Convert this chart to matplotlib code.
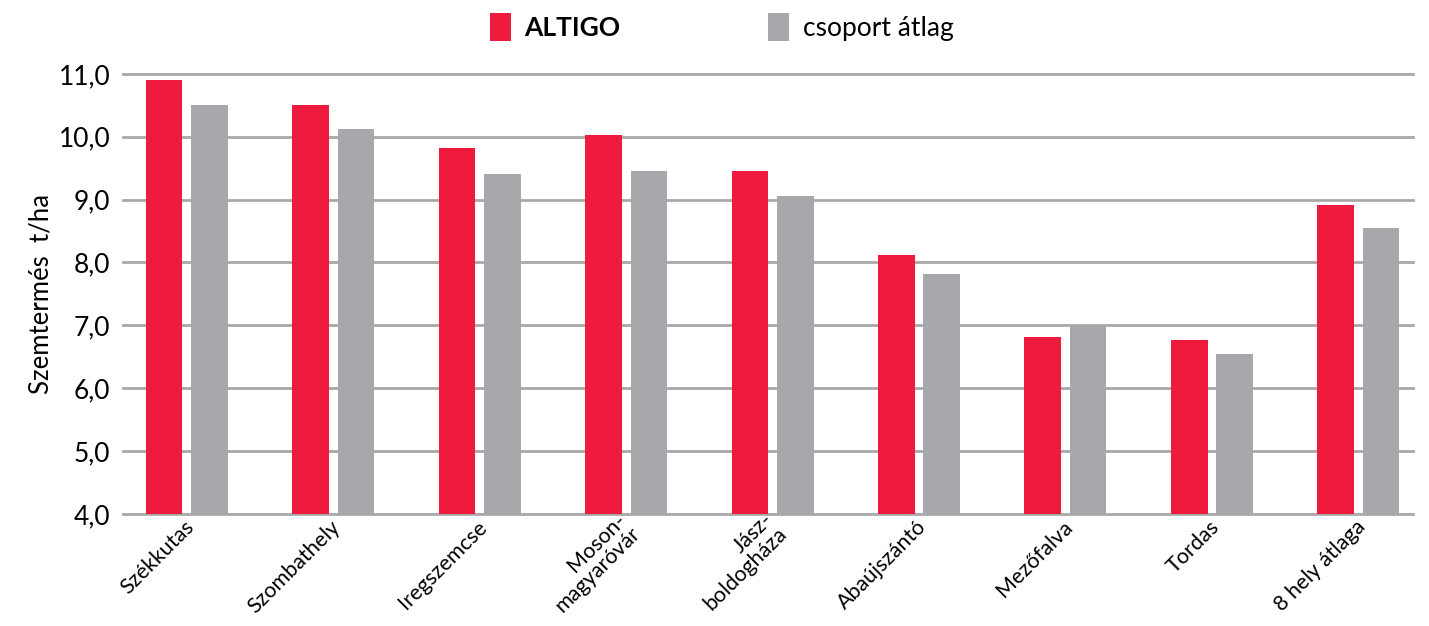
"""Szemtermés: ALTIGO vs csoport átlag, grouped bar chart."""

import matplotlib

matplotlib.use("Agg")
import matplotlib.pyplot as plt  # noqa: E402
import matplotlib.transforms as mtransforms  # noqa: E402
import numpy as np  # noqa: E402

plt.rcParams["font.family"] = ["Lato", "DejaVu Sans"]

locations = [
    "Székkutas",
    "Szombathely",
    "Iregszemcse",
    "Moson-\nmagyaróvár",
    "Jász-\nboldogháza",
    "Abaújszántó",
    "Mezőfalva",
    "Tordas",
    "8 hely átlaga",
]
altigo = [10.90, 10.50, 9.82, 10.02, 9.46, 8.12, 6.81, 6.77, 8.92]
group_avg = [10.51, 10.12, 9.40, 9.46, 9.06, 7.82, 7.00, 6.55, 8.55]
y_ticks = [4, 5, 6, 7, 8, 9, 10, 11]

RED = "#EE1B3C"
GRAY = "#A7A8AB"
GRID = "#A8A8A8"

fig = plt.figure(figsize=(14.29, 6.26), dpi=100)
ax = fig.add_axes([0.086, 0.179, 0.903, 0.703])

x = np.arange(len(locations))
w = 0.25
off = 0.155
ax.bar(x - off, altigo, w, color=RED, label="ALTIGO", zorder=3)
ax.bar(x + off, group_avg, w, color=GRAY, label="csoport átlag", zorder=3)

ax.set_ylim(4, 11)
ax.set_xlim(-0.437, 8.375)
ax.set_yticks(y_ticks)
ax.set_yticklabels([f"{v:.1f}".replace(".", ",") for v in y_ticks], fontsize=19)
ax.yaxis.grid(True, color=GRID, linewidth=2)
for gl in ax.get_ygridlines():
    gl.set_clip_on(False)
ax.set_axisbelow(True)
for s in ax.spines.values():
    s.set_visible(False)
ax.tick_params(axis="both", length=0)
ax.tick_params(axis="y", pad=9)

ax.set_xticks(x)
ax.set_xticklabels(locations, fontsize=15.5, rotation=45, ha="right",
                   va="center", rotation_mode="anchor", linespacing=1.0)
ax.tick_params(axis="x", pad=7)
shift = mtransforms.ScaledTranslation(4 / 100, 0, fig.dpi_scale_trans)
for lbl in ax.get_xticklabels():
    lbl.set_transform(lbl.get_transform() + shift)

ax.set_ylabel("Szemtermés  t/ha", fontsize=18.5)
ax.yaxis.set_label_coords(-0.054, 0.5)

leg = fig.legend(loc="center", bbox_to_anchor=(0.505, 0.957), ncol=2,
                 frameon=False, fontsize=19, handlelength=0.8, handleheight=1.3,
                 handletextpad=0.5, columnspacing=5.6, borderpad=0)
leg.get_texts()[0].set_fontweight("bold")

fig.savefig("out.png", dpi=100)
